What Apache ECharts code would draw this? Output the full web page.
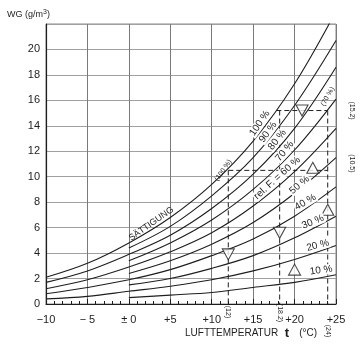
<!DOCTYPE html>
<html>
<head>
<meta charset="utf-8">
<script src="https://cdn.jsdelivr.net/npm/echarts@6/dist/echarts.min.js"></script>
<style>
  html, body { margin: 0; padding: 0; background: #fff; }
  #chart { width: 360px; height: 350px; }
</style>
</head>
<body>
<div id="chart"></div>
<script>
// Air temperature (°C) where the humidity curves are sampled
const temps = [-10, -5, 0, 5, 10, 15, 20, 25];

// Water vapour content (g/m³) for each relative humidity curve
const rh100 = [2.1, 3.2, 4.8, 6.8, 9.4, 12.8, 17.3, 23.0];
const rh90  = [null, null, 4.4, 6.1, 8.5, 11.5, 15.6, 20.7];
const rh80  = [1.7, 2.6, 3.9, 5.4, 7.5, 10.2, 13.8, 18.6];
const rh70  = [null, null, 3.4, 4.8, 6.6, 9.0, 12.1, 16.1];
const rh60  = [1.2, 1.9, 2.9, 4.1, 5.6, 7.7, 10.4, 13.8];
const rh50  = [null, null, 2.4, 3.4, 4.7, 6.4, 8.7, 11.5];
const rh40  = [0.8, 1.3, 1.9, 2.7, 3.8, 5.1, 6.9, 9.2];
const rh30  = [null, null, 1.5, 2.0, 2.8, 3.8, 5.2, 6.9];
const rh20  = [0.4, 0.6, 1.0, 1.4, 1.9, 2.6, 3.5, 4.6];
const rh10  = [null, null, 0.5, 0.7, 0.9, 1.3, 1.7, 2.3];

// Worked example: two moisture levels, their dew points and the room temperature
const levels = [10.5, 15.2];
const dewPoints = [12, 18.2];
const roomTemp = 24;

// Reading markers (triangles)
const upMarks = [[20, 2.7], [24, 7.4], [22.2, 10.7]];
const downMarks = [[12, 3.9], [18.2, 5.6], [20.9, 15.2]];

// Axis tick labels
const xTickLabels = ['\u221210', '\u2212 5', '\u00b1 0', '+5', '+10', '+15', '+20', '+25'];
const yTickLabels = ['0', '2', '4', '6', '8', '10', '12', '14', '16', '18', '20'];

const INK = '#1e1e1e';
const FONT = '"Liberation Sans", Arial, sans-serif';

function curve(values) {
  return {
    type: 'line', smooth: 0.35, symbol: 'none', silent: true,
    lineStyle: { color: INK, width: 1.1 },
    data: temps.map((t, i) => [t, values[i]]),
    clip: true
  };
}

function dashed(points) {
  return {
    type: 'line', symbol: 'none', silent: true,
    lineStyle: { color: INK, width: 1, type: [5, 3] },
    data: points
  };
}

const curves = [rh100, rh90, rh80, rh70, rh60, rh50, rh40, rh30, rh20, rh10].map(curve);

const guides = [
  dashed([[dewPoints[0], levels[0]], [roomTemp, levels[0]]]),
  dashed([[dewPoints[1] - 0.4, levels[1]], [roomTemp, levels[1]]]),
  dashed([[dewPoints[0], levels[0]], [dewPoints[0], 0]]),
  dashed([[dewPoints[1], levels[1]], [dewPoints[1], 0]]),
  dashed([[roomTemp, levels[1]], [roomTemp, 0]])
];

const markers = [
  { type: 'scatter', symbol: 'triangle', symbolSize: [12, 11], data: upMarks,
    itemStyle: { color: '#fff', borderColor: INK, borderWidth: 1.1 }, z: 5 },
  { type: 'scatter', symbol: 'triangle', symbolRotate: 180, symbolSize: [12, 11], data: downMarks,
    itemStyle: { color: '#fff', borderColor: INK, borderWidth: 1.1 }, z: 5 }
];

const chart = echarts.init(document.getElementById('chart'), null, { renderer: 'canvas' });

chart.setOption({
  animation: false,
  backgroundColor: '#fff',
  grid: { left: 46, right: 24, top: 24, bottom: 46, show: true, borderColor: '#8a8a8a', borderWidth: 1 },
  xAxis: {
    type: 'value', min: -10, max: 25, interval: 5,
    axisLine: { onZero: false, lineStyle: { color: INK, width: 1.2 } },
    axisTick: { inside: true, length: 5, lineStyle: { color: INK } },
    minorTick: { show: true, splitNumber: 5, length: 3, lineStyle: { color: INK } },
    axisLabel: {
      color: INK, fontFamily: FONT, fontSize: 11, margin: 10,
      formatter: v => {
        const i = Math.round((v + 10) / 5);
        return i === 7 ? '{up|' + xTickLabels[i] + '}' : xTickLabels[i];
      },
      rich: { up: { color: INK, fontFamily: FONT, fontSize: 11, padding: [0, 0, 10, 0] } }
    },
    splitLine: { show: true, lineStyle: { color: '#7a7a7a', width: 1 } }
  },
  yAxis: {
    type: 'value', min: 0, max: 22, interval: 2,
    axisLine: { show: true, onZero: false, lineStyle: { color: INK, width: 1.2 } },
    axisTick: { show: false },
    axisLabel: {
      color: INK, fontFamily: FONT, fontSize: 11, margin: 6,
      formatter: v => (v <= 20 ? yTickLabels[v / 2] : '')
    },
    splitLine: { show: true, lineStyle: { color: '#a0a0a0', width: 1 } }
  },
  series: [...curves, ...guides, ...markers]
});

// Text placed along the curves, anchored in data coordinates
const curveLabels = [
  { text: '100 %', at: [15.8, 14.2], rot: 56, size: 10, bg: true },
  { text: '90 %', at: [16.8, 13.5], rot: 54, size: 10, bg: true },
  { text: '80 %', at: [17.9, 12.9], rot: 52, size: 10, bg: true },
  { text: '70 %', at: [18.8, 12.0], rot: 50, size: 10, bg: true },
  { text: 'rel. F. = 60 %', at: [17.9, 9.9], rot: 42, size: 10, bg: true },
  { text: '50 %', at: [20.6, 9.35], rot: 40, size: 10, bg: true },
  { text: '40 %', at: [21.3, 8.0], rot: 30, size: 10, bg: true },
  { text: '30 %', at: [22.2, 6.45], rot: 22, size: 10, bg: true },
  { text: '20 %', at: [22.8, 4.6], rot: 15, size: 10, bg: true },
  { text: '10 %', at: [23.2, 2.65], rot: 8, size: 10, bg: true },
  { text: 'SÄTTIGUNG', at: [2.7, 6.3], rot: 35, size: 9 },
  { text: '(100 %)', at: [11.4, 10.5], rot: 55, size: 7 },
  { text: '(70 %)', at: [24.0, 16.3], rot: 60, size: 7 }
];

const graphics = curveLabels.map(l => {
  const p = chart.convertToPixel({ gridIndex: 0 }, l.at);
  const style = { text: l.text, font: l.size + 'px ' + FONT, fill: INK, align: 'center', verticalAlign: 'middle' };
  if (l.bg) {
    style.backgroundColor = '#fff';
    style.padding = [0, 1];
  }
  return { type: 'text', x: p[0], y: p[1], rotation: l.rot * Math.PI / 180, silent: true, z: 10, style };
});

// Values of the guide lines written beside the axes
levels.forEach(v => {
  const p = chart.convertToPixel({ gridIndex: 0 }, [25, v]);
  graphics.push({
    type: 'text', x: 352, y: p[1] + (v > 12 ? 0 : -7), rotation: -Math.PI / 2, silent: true,
    style: { text: '(' + v + ')', font: '7px ' + FONT, fill: INK, align: 'center', verticalAlign: 'middle' }
  });
});
[[dewPoints[0], 312], [dewPoints[1], 313], [roomTemp, 331]].forEach(([t, y]) => {
  const p = chart.convertToPixel({ gridIndex: 0 }, [t, 0]);
  graphics.push({
    type: 'text', x: p[0], y: y, rotation: -Math.PI / 2, silent: true,
    style: { text: '(' + t + ')', font: '7px ' + FONT, fill: INK, align: 'center', verticalAlign: 'middle' }
  });
});

// Axis titles
graphics.push({
  type: 'text', x: 7, y: 15, silent: true,
  style: {
    text: '{a|WG (g/m}{s|3}{a|)}', verticalAlign: 'middle',
    rich: {
      a: { font: '9px ' + FONT, fill: INK },
      s: { font: '7px ' + FONT, fill: INK, padding: [0, 0, 5, 0] }
    }
  }
});
graphics.push({
  type: 'text', x: 185, y: 333, silent: true,
  style: {
    text: '{a|LUFTTEMPERATUR}  {b|t}   {a|(°C)}', verticalAlign: 'middle',
    rich: {
      a: { font: '10px ' + FONT, fill: INK },
      b: { font: 'bold 13px ' + FONT, fill: INK }
    }
  }
});

chart.setOption({ graphic: graphics });
</script>
</body>
</html>
